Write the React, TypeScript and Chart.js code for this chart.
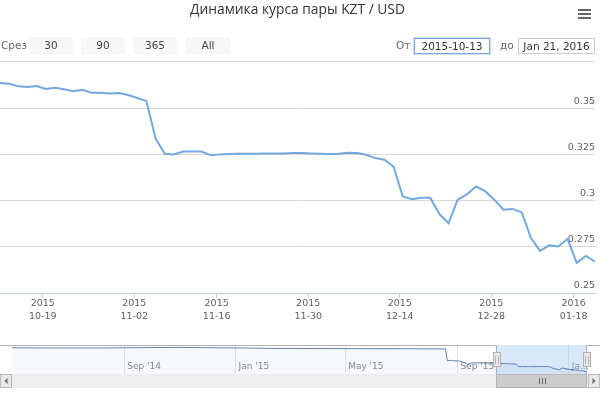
import React, { useEffect, useRef } from 'react';
import { Chart, registerables } from 'chart.js';

Chart.register(...registerables);

const TITLE = 'Динамика курса пары KZT / USD';
const FONT = '"DejaVu Sans", "Open Sans", sans-serif';
const TITLE_FONT = '"Open Sans", "DejaVu Sans", sans-serif';

// Main series: trading dates (ordinal axis) and values
const dates = [
  '2015-10-13', '2015-10-14', '2015-10-15', '2015-10-16', '2015-10-17',
  '2015-10-20', '2015-10-21', '2015-10-22', '2015-10-23', '2015-10-24',
  '2015-10-27', '2015-10-28', '2015-10-29', '2015-10-30', '2015-10-31',
  '2015-11-03', '2015-11-04', '2015-11-06', '2015-11-07',
  '2015-11-10', '2015-11-11', '2015-11-12', '2015-11-13', '2015-11-14',
  '2015-11-17', '2015-11-18', '2015-11-19', '2015-11-20', '2015-11-21',
  '2015-11-24', '2015-11-25', '2015-11-26', '2015-11-27', '2015-11-28',
  '2015-12-01', '2015-12-02', '2015-12-03', '2015-12-04', '2015-12-05',
  '2015-12-08', '2015-12-09', '2015-12-10', '2015-12-11', '2015-12-12',
  '2015-12-15', '2015-12-16', '2015-12-17', '2015-12-18', '2015-12-19',
  '2015-12-22', '2015-12-23', '2015-12-24', '2015-12-25', '2015-12-26',
  '2015-12-29', '2015-12-30', '2015-12-31', '2016-01-01',
  '2016-01-12', '2016-01-13', '2016-01-14', '2016-01-15', '2016-01-16',
  '2016-01-19', '2016-01-20', '2016-01-21',
];

const values = [
  0.3636, 0.3632, 0.3618, 0.3615, 0.3620,
  0.3604, 0.3610, 0.3602, 0.3592, 0.3599,
  0.3583, 0.3583, 0.3580, 0.3582, 0.3571,
  0.3555, 0.3538, 0.3335, 0.3253,
  0.3250, 0.3265, 0.3265, 0.3265, 0.3245,
  0.3250, 0.3252, 0.3253, 0.3254, 0.3254,
  0.3255, 0.3255, 0.3255, 0.3257, 0.3258,
  0.3255, 0.3253, 0.3252, 0.3254, 0.3259,
  0.3258, 0.3248, 0.3230, 0.3221, 0.3183,
  0.3022, 0.3007, 0.3015, 0.3015, 0.2927,
  0.2877, 0.3005, 0.3033, 0.3076, 0.3051,
  0.3005, 0.2951, 0.2955, 0.2936,
  0.2797, 0.2728, 0.2758, 0.2752, 0.2793,
  0.2663, 0.2701, 0.2670,
];

const xTickDates = ['2015-10-19', '2015-11-02', '2015-11-16', '2015-11-30', '2015-12-14', '2015-12-28', '2016-01-18'];
const yTicks = [0.25, 0.275, 0.3, 0.325, 0.35, 0.375];

// Navigator: earlier history (before the main range), then the main series
const navHistDates = [
  '2014-05-01', '2014-06-02', '2014-07-01', '2014-08-01', '2014-09-01', '2014-10-01',
  '2014-11-03', '2014-12-01', '2015-01-13', '2015-02-02', '2015-03-02', '2015-04-01',
  '2015-05-04', '2015-06-01', '2015-07-01', '2015-08-03', '2015-08-19', '2015-08-21',
  '2015-08-25', '2015-08-28', '2015-09-03', '2015-09-09', '2015-09-12', '2015-09-16',
  '2015-09-23', '2015-09-30', '2015-10-07', '2015-10-10',
];
const navHistValues = [
  0.5485, 0.5460, 0.5455, 0.5450, 0.5480, 0.5505,
  0.5520, 0.5490, 0.5450, 0.5415, 0.5400, 0.5385,
  0.5380, 0.5370, 0.5365, 0.5355, 0.5345, 0.3930,
  0.4010, 0.3950, 0.3920, 0.3700, 0.3520, 0.3680,
  0.3700, 0.3690, 0.3660, 0.3650,
];
const navTickDates = ['2014-09-01', '2015-01-01', '2015-05-01', '2015-09-01', '2016-01-01'];
const navTickLabels = ["Sep '14", "Jan '15", "May '15", "Sep '15", 'Ja...'];

const rangeButtons = ['30', '90', '365', 'All'];
const rangeLabel = 'Срез';
const fromLabel = 'От';
const toLabel = 'до';
const fromValue = '2015-10-13';
const toValue = 'Jan 21, 2016';

function dayNum(s: string): number {
  const [y, m, d] = s.split('-').map(Number);
  return Date.UTC(y, m - 1, d) / 86400000;
}

const dayNums = dates.map(dayNum);

// Ordinal position of a calendar date between trading points (like an ordinal time axis)
function ordinalPos(s: string): number {
  const t = dayNum(s);
  for (let k = 0; k < dayNums.length - 1; k++) {
    if (t >= dayNums[k] && t < dayNums[k + 1]) {
      return k + (t - dayNums[k]) / (dayNums[k + 1] - dayNums[k]);
    }
  }
  return dayNums.length - 1;
}

const navPlugin = {
  id: 'navExtras',
  beforeDatasetsDraw(chart: any) {
    const { ctx, chartArea, scales } = chart;
    const x0 = scales.x.getPixelForValue(dayNums[0]);
    const x1 = scales.x.getPixelForValue(dayNums[dayNums.length - 1]);
    ctx.save();
    ctx.fillStyle = 'rgba(128,179,236,0.3)';
    ctx.fillRect(x0, chartArea.top, x1 - x0, chartArea.bottom - chartArea.top);
    ctx.restore();
  },
  afterDraw(chart: any) {
    const { ctx, chartArea, scales, width } = chart;
    const { left, right, top, bottom } = chartArea;
    const x0 = Math.round(scales.x.getPixelForValue(dayNums[0])) + 0.5;
    const x1 = Math.round(scales.x.getPixelForValue(dayNums[dayNums.length - 1])) - 0.5;
    const sbTop = Math.round(bottom);
    const sbH = 14;
    ctx.save();
    // scrollbar track
    ctx.fillStyle = '#eeeeee';
    ctx.fillRect(0, sbTop, width, sbH);
    // buttons
    ctx.strokeStyle = '#bbbbbb';
    ctx.lineWidth = 1;
    ctx.fillStyle = '#ebe7e8';
    ctx.fillRect(0, sbTop, Math.round(left), sbH);
    ctx.strokeRect(0.5, sbTop + 0.5, Math.round(left) - 1, sbH - 1);
    ctx.fillRect(Math.round(right) + 1, sbTop, width - Math.round(right) - 1, sbH);
    ctx.strokeRect(Math.round(right) + 1.5, sbTop + 0.5, width - Math.round(right) - 2, sbH - 1);
    // arrows
    ctx.fillStyle = '#666666';
    const my = sbTop + sbH / 2;
    const lc = Math.round(left) / 2;
    ctx.beginPath();
    ctx.moveTo(lc - 1.5, my);
    ctx.lineTo(lc + 1.5, my - 3);
    ctx.lineTo(lc + 1.5, my + 3);
    ctx.closePath();
    ctx.fill();
    const rc = (Math.round(right) + 1 + width) / 2;
    ctx.beginPath();
    ctx.moveTo(rc + 1.5, my);
    ctx.lineTo(rc - 1.5, my - 3);
    ctx.lineTo(rc - 1.5, my + 3);
    ctx.closePath();
    ctx.fill();
    // thumb
    ctx.fillStyle = '#cccccc';
    ctx.fillRect(x0, sbTop, x1 - x0, sbH);
    ctx.strokeStyle = '#bbbbbb';
    ctx.strokeRect(x0, sbTop + 0.5, x1 - x0, sbH - 1);
    // rifles
    ctx.strokeStyle = '#666666';
    const tc = Math.round((x0 + x1) / 2) + 0.5;
    ctx.beginPath();
    for (const dx of [-3, 0, 3]) {
      ctx.moveTo(tc + dx, sbTop + 4);
      ctx.lineTo(tc + dx, sbTop + 10);
    }
    ctx.stroke();
    // outline
    ctx.strokeStyle = '#b2b1b6';
    ctx.beginPath();
    const ty = Math.round(top) + 0.5;
    ctx.moveTo(0, ty);
    ctx.lineTo(x0, ty);
    ctx.lineTo(x0, sbTop + sbH - 0.5);
    ctx.lineTo(x1, sbTop + sbH - 0.5);
    ctx.lineTo(x1, ty);
    ctx.lineTo(width, ty);
    ctx.stroke();
    // handles
    const midY = Math.round((top + bottom) / 2);
    for (const hx of [x0, x1]) {
      const cx = Math.round(hx);
      ctx.fillStyle = '#ebe7e8';
      ctx.fillRect(cx - 4, midY - 8, 8, 15);
      ctx.strokeStyle = '#b2b1b6';
      ctx.strokeRect(cx - 4 + 0.5, midY - 8 + 0.5, 7, 14);
      ctx.beginPath();
      ctx.moveTo(cx - 1.5, midY - 4);
      ctx.lineTo(cx - 1.5, midY + 4);
      ctx.moveTo(cx + 1.5, midY - 4);
      ctx.lineTo(cx + 1.5, midY + 4);
      ctx.stroke();
    }
    ctx.restore();
  },
};

export default function App() {
  const mainRef = useRef<HTMLCanvasElement | null>(null);
  const navRef = useRef<HTMLCanvasElement | null>(null);

  useEffect(() => {
    if (!mainRef.current || !navRef.current) return;

    const main = new Chart(mainRef.current, {
      type: 'line',
      data: {
        datasets: [
          {
            data: values.map((v, i) => ({ x: i, y: v })),
            borderColor: '#72a8de',
            borderWidth: 2,
            pointRadius: 0,
            tension: 0,
            fill: false,
          },
        ],
      },
      options: {
        animation: false,
        responsive: false,
        maintainAspectRatio: false,
        layout: { padding: { left: 0, right: 5, top: 0, bottom: 7 } },
        plugins: {
          legend: { display: false },
          tooltip: { enabled: false },
          title: {
            display: true,
            text: TITLE,
            color: '#333333',
            font: { family: TITLE_FONT, size: 13.8, weight: 'normal', lineHeight: 1.2 },
            padding: { top: 2, bottom: 43.4 },
          },
        },
        scales: {
          x: {
            type: 'linear',
            min: 0,
            max: values.length - 1,
            bounds: 'data',
            afterBuildTicks: (s: any) => {
              s.ticks = xTickDates.map((d) => ({ value: ordinalPos(d) }));
            },
            afterFit: (s: any) => {
              s.height = 30;
            },
            grid: { display: true, drawOnChartArea: false, drawTicks: true, tickLength: 5, tickColor: '#C0D0E0' },
            border: { display: true, color: '#C0D0E0' },
            ticks: {
              autoSkip: false,
              maxRotation: 0,
              minRotation: 0,
              padding: -1,
              color: '#606060',
              font: { family: FONT, size: 9.5, lineHeight: 1.35 },
              callback: (_v: any, i: number) => [xTickDates[i].slice(0, 4), xTickDates[i].slice(5)],
            },
          },
          y: {
            type: 'linear',
            position: 'right',
            min: yTicks[0],
            max: yTicks[yTicks.length - 1],
            afterBuildTicks: (s: any) => {
              s.ticks = yTicks.map((v) => ({ value: v }));
            },
            afterFit: (s: any) => {
              s.width = 0;
            },
            grid: { color: '#D8D8D8', drawTicks: false },
            border: { display: false },
            ticks: {
              mirror: true,
              padding: 0,
              labelOffset: -7,
              color: '#606060',
              font: { family: FONT, size: 9.5 },
              callback: (v: any) => (v >= yTicks[yTicks.length - 1] - 1e-9 ? '' : String(+Number(v).toFixed(3))),
            },
          },
        },
      },
    } as any);

    const navDatesAll = [...navHistDates, ...dates];
    const navValuesAll = [...navHistValues, ...values];
    const nMin = Math.min(...navValuesAll);
    const nMax = Math.max(...navValuesAll);
    const nPad = (nMax - nMin) * 0.1;

    const nav = new Chart(navRef.current, {
      type: 'line',
      data: {
        datasets: [
          {
            data: navDatesAll.map((d, i) => ({ x: dayNum(d), y: navValuesAll[i] })),
            borderColor: 'rgba(69,114,167,0.85)',
            backgroundColor: 'rgba(69,114,167,0.05)',
            borderWidth: 1,
            pointRadius: 0,
            tension: 0,
            fill: 'start',
          },
        ],
      },
      options: {
        animation: false,
        responsive: false,
        maintainAspectRatio: false,
        layout: { padding: { left: 12, right: 13, top: 5, bottom: 19 } },
        plugins: { legend: { display: false }, tooltip: { enabled: false }, title: { display: false } },
        scales: {
          x: {
            type: 'linear',
            min: dayNum(navHistDates[0]),
            max: dayNums[dayNums.length - 1],
            bounds: 'data',
            afterBuildTicks: (s: any) => {
              s.ticks = navTickDates.map((d) => ({ value: dayNum(d) }));
            },
            afterFit: (s: any) => {
              s.height = 0;
            },
            grid: { color: '#e6e6e6', drawTicks: false },
            border: { display: false },
            ticks: {
              autoSkip: false,
              mirror: true,
              maxRotation: 0,
              align: 'start',
              labelOffset: 3,
              padding: 2,
              color: '#888888',
              font: { family: FONT, size: 9 },
              callback: (_v: any, i: number) => navTickLabels[i],
            },
          },
          y: { display: false, min: nMin - nPad, max: nMax + nPad },
        },
      },
      plugins: [navPlugin],
    } as any);

    return () => {
      main.destroy();
      nav.destroy();
    };
  }, []);

  const uiText: React.CSSProperties = {
    position: 'absolute',
    top: 37,
    height: 17,
    lineHeight: '17px',
    fontSize: 10.5,
    color: '#666666',
    fontFamily: FONT,
    whiteSpace: 'nowrap',
  };
  const btnLefts = [29, 81, 133, 186];

  return (
    <div
      style={{
        position: 'fixed',
        left: 0,
        top: 0,
        width: 600,
        height: 393,
        overflow: 'hidden',
        background: '#ffffff',
        fontFamily: FONT,
      }}
    >
      <canvas ref={mainRef} width={600} height={330} style={{ position: 'absolute', left: 0, top: 0 }} />
      <canvas ref={navRef} width={600} height={53} style={{ position: 'absolute', left: 0, top: 340 }} />

      {/* context menu icon */}
      {[9, 13, 17].map((t) => (
        <div key={t} style={{ position: 'absolute', left: 578, top: t, width: 13, height: 2, background: '#666666' }} />
      ))}

      {/* range selector */}
      <div style={{ ...uiText, left: 1 }}>{rangeLabel}</div>
      {rangeButtons.map((b, i) => (
        <div
          key={b}
          style={{
            ...uiText,
            left: btnLefts[i],
            width: 44,
            background: '#f7f7f7',
            color: '#444444',
            textAlign: 'center',
          }}
        >
          {b}
        </div>
      ))}

      {/* input group */}
      <div style={{ ...uiText, left: 396 }}>{fromLabel}</div>
      <div
        style={{
          ...uiText,
          left: 414,
          top: 38,
          height: 14,
          lineHeight: '14px',
          width: 74,
          border: '1px solid #7aa7e0',
          boxShadow: '0 0 0 1px #d3e2f5',
          color: '#333333',
          textAlign: 'center',
        }}
      >
        {fromValue}
      </div>
      <div style={{ ...uiText, left: 500 }}>{toLabel}</div>
      <div
        style={{
          ...uiText,
          left: 518,
          top: 38,
          height: 14,
          lineHeight: '14px',
          width: 75,
          border: '1px solid #cccccc',
          color: '#333333',
          textAlign: 'center',
        }}
      >
        {toValue}
      </div>
    </div>
  );
}
